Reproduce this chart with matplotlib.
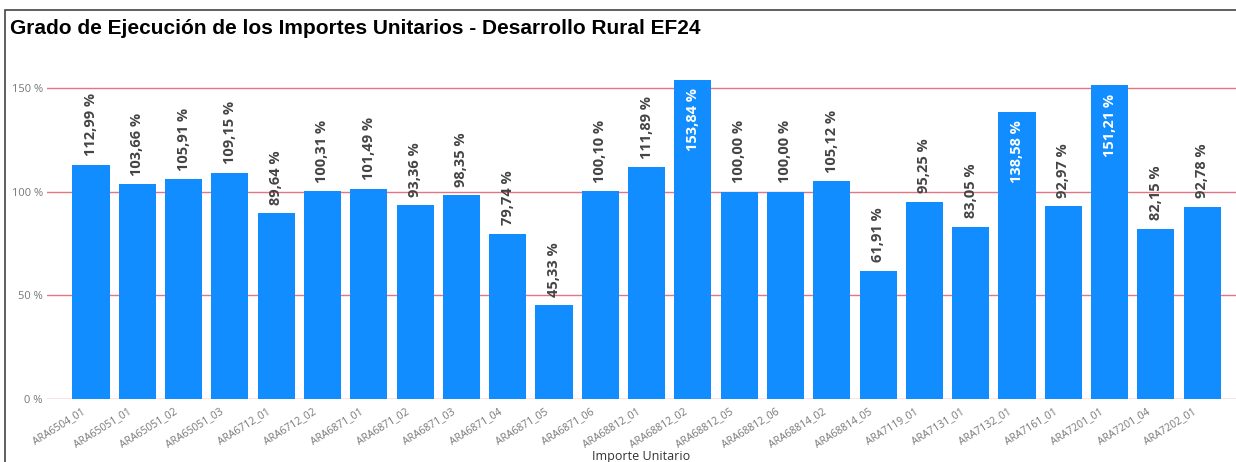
import matplotlib
matplotlib.use("Agg")
import matplotlib.pyplot as plt
from matplotlib.patches import Rectangle
from matplotlib.transforms import ScaledTranslation

# Datos
codigos = [
    "ARA6504_01", "ARA65051_01", "ARA65051_02", "ARA65051_03", "ARA6712_01",
    "ARA6712_02", "ARA6871_01", "ARA6871_02", "ARA6871_03", "ARA6871_04",
    "ARA6871_05", "ARA6871_06", "ARA68812_01", "ARA68812_02", "ARA68812_05",
    "ARA68812_06", "ARA68814_02", "ARA68814_05", "ARA7119_01", "ARA7131_01",
    "ARA7132_01", "ARA7161_01", "ARA7201_01", "ARA7201_04", "ARA7202_01",
]
ejecucion = [
    112.99, 103.66, 105.91, 109.15, 89.64,
    100.31, 101.49, 93.36, 98.35, 79.74,
    45.33, 100.10, 111.89, 153.84, 100.00,
    100.00, 105.12, 61.91, 95.25, 83.05,
    138.58, 92.97, 151.21, 82.15, 92.78,
]
ticks_y = [0, 50, 100, 150]

AZUL = "#118dff"
ROJO = "#e57380"
GRIS = "#777777"

W, H = 1236, 462
fig = plt.figure(figsize=(W / 100, H / 100), dpi=100)

# marco del visual
fig.patches.append(Rectangle((5 / W, -0.1), 1.2, 1 - 10 / H + 0.1,
                             transform=fig.transFigure, fill=False,
                             edgecolor="#444444", lw=1.2))

ax = fig.add_axes([47 / W, 1 - 399 / H, (W - 47) / W, (399 - 60) / H])
x = range(len(codigos))
bars = ax.bar(x, ejecucion, width=0.8, color=AZUL, zorder=2)

ax.set_xlim(-0.95, 24.73)
ax.set_ylim(0, 163.5)
ax.set_yticks(ticks_y)
ax.set_yticklabels([f"{t} %" for t in ticks_y], fontsize=8, color=GRIS,
                   family="Open Sans")
for t in ticks_y:
    ax.axhline(t, color=ROJO, lw=1, zorder=1)
for s in ax.spines.values():
    s.set_visible(False)
ax.tick_params(length=0)
ax.tick_params(axis="y", pad=3)

ax.set_xticks(list(x))
ax.set_xticklabels(codigos, rotation=32, ha="right", rotation_mode="anchor",
                   fontsize=7.5, color=GRIS, family="Open Sans")
ax.tick_params(axis="x", pad=5)
desplaza = ScaledTranslation(-10 / 100, 0, fig.dpi_scale_trans)
for lab in ax.get_xticklabels():
    lab.set_transform(lab.get_transform() + desplaza)
ax.set_xlabel("Importe Unitario", fontsize=9, color="#333333",
              family="Open Sans", labelpad=0)

# etiquetas de datos: dentro de la barra (blancas) si no caben encima
for b, v in zip(bars, ejecucion):
    cx = b.get_x() + b.get_width() / 2
    txt = f"{v:.2f} %".replace(".", ",")
    if v > 135:
        ax.annotate(txt, (cx, v), xytext=(0, -6), textcoords="offset points",
                    rotation=90, ha="center", va="top", fontsize=10.5,
                    fontweight="bold", color="white", family="Open Sans")
    else:
        ax.annotate(txt, (cx, v), xytext=(0, 6), textcoords="offset points",
                    rotation=90, ha="center", va="bottom", fontsize=10.5,
                    fontweight="bold", color="#444444", family="Open Sans")

fig.text(10 / W, 1 - 28 / H, "Grado de Ejecución de los Importes Unitarios - Desarrollo Rural EF24",
         fontsize=15, fontweight="bold", family="Liberation Sans",
         va="center", ha="left", color="black")

fig.savefig("out.png", dpi=100)
